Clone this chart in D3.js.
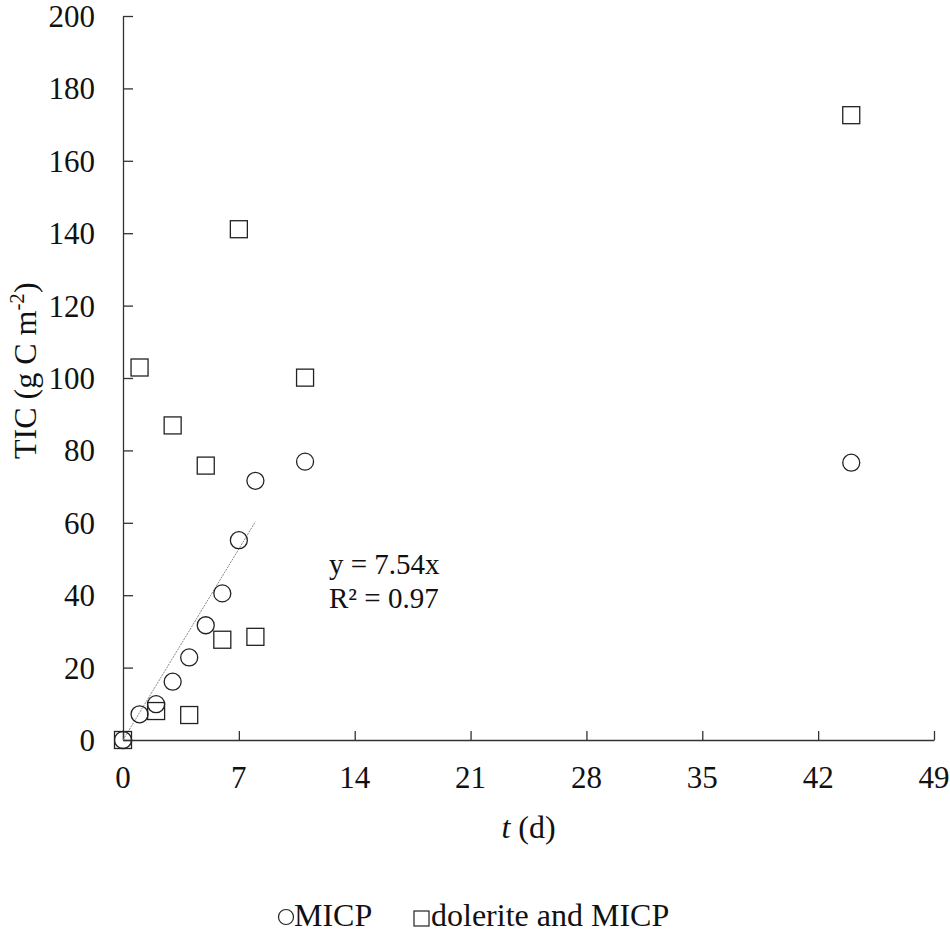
<!DOCTYPE html>
<html>
<head>
<meta charset="utf-8">
<script src="https://cdn.jsdelivr.net/npm/d3@7"></script>
<style>
  body { margin: 0; background: #fff; }
  text { font-family: "Liberation Serif", "Times New Roman", serif; fill: #111; }
</style>
</head>
<body>
<svg id="chart" width="950" height="936"></svg>
<script>
// data
var micpT = [0, 1, 2, 3, 4, 5, 6, 7, 8, 11, 44];
var micpTIC = [0, 7.1, 9.9, 16.1, 22.8, 31.7, 40.5, 55.2, 71.6, 76.9, 76.6];
var doleriteT = [0, 1, 2, 3, 4, 5, 6, 7, 8, 11, 44];
var doleriteTIC = [0, 102.9, 8.0, 86.9, 6.9, 75.8, 27.7, 141.1, 28.5, 100.1, 172.6];
var xTicks = [0, 7, 14, 21, 28, 35, 42, 49];
var yTicks = [0, 20, 40, 60, 80, 100, 120, 140, 160, 180, 200];
var slope = 7.54;
var fitRange = [0, 8];

var svg = d3.select("#chart");

var x = d3.scaleLinear().domain([0, 49]).range([123, 934]);
var y = d3.scaleLinear().domain([0, 200]).range([740, 16]);

var axisColor = "#333";

// y axis, ticks pointing into plot
var yAxis = svg.append("g")
    .attr("transform", "translate(" + x(0) + ",0)")
    .call(d3.axisRight(y).tickValues(yTicks).tickSize(10).tickSizeOuter(0).tickFormat(""));
yAxis.select(".domain").attr("stroke", axisColor).attr("stroke-width", 1.3);
yAxis.selectAll(".tick line").attr("stroke", axisColor).attr("stroke-width", 1.3);

svg.append("g").selectAll("text")
    .data(yTicks)
    .enter().append("text")
    .attr("x", 95)
    .attr("y", function (d) { return y(d) + 11; })
    .attr("text-anchor", "end")
    .style("font-size", "31px")
    .text(function (d) { return d; });

// x axis, ticks pointing up
var xAxis = svg.append("g")
    .attr("transform", "translate(0," + y(0) + ")")
    .call(d3.axisTop(x).tickValues(xTicks).tickSize(9).tickSizeOuter(0).tickFormat(""));
xAxis.select(".domain").attr("stroke", axisColor).attr("stroke-width", 1.3);
xAxis.selectAll(".tick line").attr("stroke", axisColor).attr("stroke-width", 1.3);

svg.append("g").selectAll("text")
    .data(xTicks)
    .enter().append("text")
    .attr("x", function (d) { return x(d); })
    .attr("y", 788)
    .attr("text-anchor", "middle")
    .style("font-size", "31px")
    .text(function (d) { return d; });

// axis titles
var xTitle = svg.append("text")
    .attr("x", x(24.5))
    .attr("y", 838)
    .attr("text-anchor", "middle")
    .style("font-size", "32px");
xTitle.append("tspan").style("font-style", "italic").text("t");
xTitle.append("tspan").text(" (d)");

var yTitle = svg.append("text")
    .attr("transform", "translate(36," + y(102) + ") rotate(-90)")
    .attr("text-anchor", "middle")
    .style("font-size", "32px");
yTitle.append("tspan").text("TIC (g C m");
yTitle.append("tspan").attr("dy", -12).style("font-size", "21px").text("-2");
yTitle.append("tspan").attr("dy", 12).text(")");

// linear fit through origin
svg.append("line")
    .attr("x1", x(fitRange[0])).attr("y1", y(slope * fitRange[0]))
    .attr("x2", x(fitRange[1])).attr("y2", y(slope * fitRange[1]))
    .attr("stroke", "#888")
    .attr("stroke-width", 1)
    .attr("stroke-dasharray", "2,1");

svg.append("text")
    .attr("x", 329).attr("y", 574)
    .style("font-size", "29px")
    .text("y = " + slope + "x");
svg.append("text")
    .attr("x", 329).attr("y", 608)
    .style("font-size", "29px")
    .text("R\u00b2 = 0.97");

// markers
var markerStroke = "#222";
var half = 8.5;

svg.append("g").selectAll("rect")
    .data(doleriteT)
    .enter().append("rect")
    .attr("x", function (d) { return x(d) - half; })
    .attr("y", function (d, i) { return y(doleriteTIC[i]) - half; })
    .attr("width", half * 2)
    .attr("height", half * 2)
    .attr("fill", "none")
    .attr("stroke", markerStroke)
    .attr("stroke-width", 1.3);

svg.append("g").selectAll("circle")
    .data(micpT)
    .enter().append("circle")
    .attr("cx", function (d) { return x(d); })
    .attr("cy", function (d, i) { return y(micpTIC[i]); })
    .attr("r", 8.5)
    .attr("fill", "none")
    .attr("stroke", markerStroke)
    .attr("stroke-width", 1.3);

// legend
var legend = svg.append("g");
legend.append("circle")
    .attr("cx", 286).attr("cy", 917).attr("r", 7.5)
    .attr("fill", "none").attr("stroke", markerStroke).attr("stroke-width", 1.2);
legend.append("text")
    .attr("x", 294).attr("y", 926)
    .style("font-size", "32px")
    .text("MICP");
legend.append("rect")
    .attr("x", 414).attr("y", 911).attr("width", 15).attr("height", 15)
    .attr("fill", "none").attr("stroke", markerStroke).attr("stroke-width", 1.2);
legend.append("text")
    .attr("x", 431).attr("y", 926)
    .style("font-size", "32px")
    .text("dolerite and MICP");
</script>
</body>
</html>
